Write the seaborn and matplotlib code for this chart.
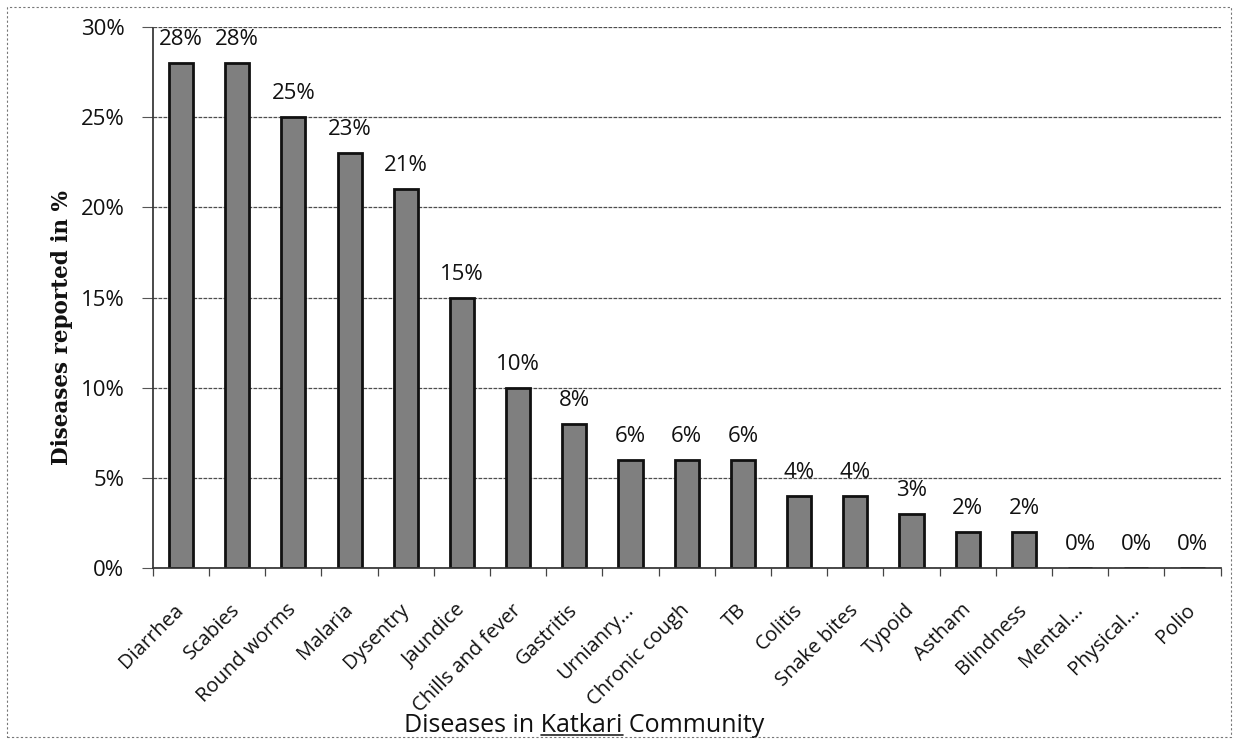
import matplotlib
matplotlib.use("Agg")
import matplotlib.pyplot as plt
from matplotlib.ticker import PercentFormatter, FixedLocator
from matplotlib.patches import Rectangle
from matplotlib.lines import Line2D
import seaborn as sns
import pandas as pd

diseases = ["Diarrhea", "Scabies", "Round worms", "Malaria", "Dysentry", "Jaundice",
            "Chills and fever", "Gastritis", "Urnianry...", "Chronic cough", "TB",
            "Colitis", "Snake bites", "Typoid", "Astham", "Blindness", "Mental...",
            "Physical...", "Polio"]
percent = [28, 28, 25, 23, 21, 15, 10, 8, 6, 6, 6, 4, 4, 3, 2, 2, 0, 0, 0]
y_ticks = [0, 5, 10, 15, 20, 25, 30]

df = pd.DataFrame({"disease": diseases, "percent": percent})

sns.set_theme(style="white")
plt.rcParams["font.family"] = ["Open Sans", "DejaVu Sans"]

fig = plt.figure(figsize=(12.33, 7.4), dpi=100)
ax = fig.add_axes([0.124, 0.232, 0.866, 0.7315])

sns.barplot(data=df, x="disease", y="percent", ax=ax, color="#7f7f7f",
            width=0.43, edgecolor="#111111", linewidth=2.0, saturation=1)

n = len(diseases)
ax.set_ylim(0, 30)
ax.set_xlim(-0.5, n - 0.5)
ax.set_yticks(y_ticks)
ax.yaxis.set_major_formatter(PercentFormatter(decimals=0))
ax.grid(axis="y", color="#4d4d4d", linewidth=0.9, linestyle=(0, (3, 1)))
ax.set_axisbelow(True)

# value labels above each bar
for i, v in enumerate(percent):
    ax.annotate(f"{v}%", (i, v), xytext=(0, 13), textcoords="offset points",
                ha="center", va="baseline", fontsize=16, color="#111111")

# category ticks sit between bars, labels stay centred under bars
ax.xaxis.set_minor_locator(FixedLocator([k - 0.5 for k in range(n + 1)]))
ax.tick_params(axis="x", which="minor", length=6, width=0.9, color="#444444",
               direction="out", bottom=True)
ax.tick_params(axis="x", which="major", length=0, labelsize=14.5, pad=28,
               colors="#111111")
ax.tick_params(axis="y", labelsize=16, length=8, width=0.8, color="#555555",
               left=True, pad=12.5, labelcolor="#111111")
plt.setp(ax.get_xticklabels(), rotation=45, ha="right", va="center",
         rotation_mode="anchor")

for side in ["top", "right"]:
    ax.spines[side].set_visible(False)
ax.spines["left"].set_color("#333333")
ax.spines["left"].set_linestyle((0, (3, 1)))
ax.spines["bottom"].set_color("#333333")

xlab = ax.set_xlabel("Diseases in Katkari Community", fontsize=18, color="#111111")
ax.xaxis.set_label_coords(0.404, -0.268)
ax.set_ylabel("Diseases reported in %", fontsize=15.5, fontweight="bold",
              family="DejaVu Serif", color="#111111")
ax.yaxis.set_label_coords(-0.075, 0.444)

fig.patches.append(Rectangle((0.006, 0.004), 0.992, 0.986, transform=fig.transFigure,
                             fill=False, edgecolor="#777777", linewidth=0.8,
                             linestyle=(0, (2, 2))))

# underline the word "Katkari" inside the axis title
fig.canvas.draw()
renderer = fig.canvas.get_renderer()
bbox = xlab.get_window_extent(renderer)


def text_width(s):
    t = fig.text(0, 0, s, fontproperties=xlab.get_fontproperties())
    w = t.get_window_extent(renderer).width
    t.remove()
    return w


w_head = text_width("Diseases in Katkari")
w_word = text_width("Katkari")
x1 = bbox.x0 + w_head
x0 = x1 - w_word
y_line = bbox.y0 + 3
W, H = fig.bbox.width, fig.bbox.height
fig.lines.append(Line2D([x0 / W, x1 / W], [y_line / H, y_line / H],
                        transform=fig.transFigure, color="#222222", linewidth=1.2))

fig.savefig("out.png", dpi=100)
